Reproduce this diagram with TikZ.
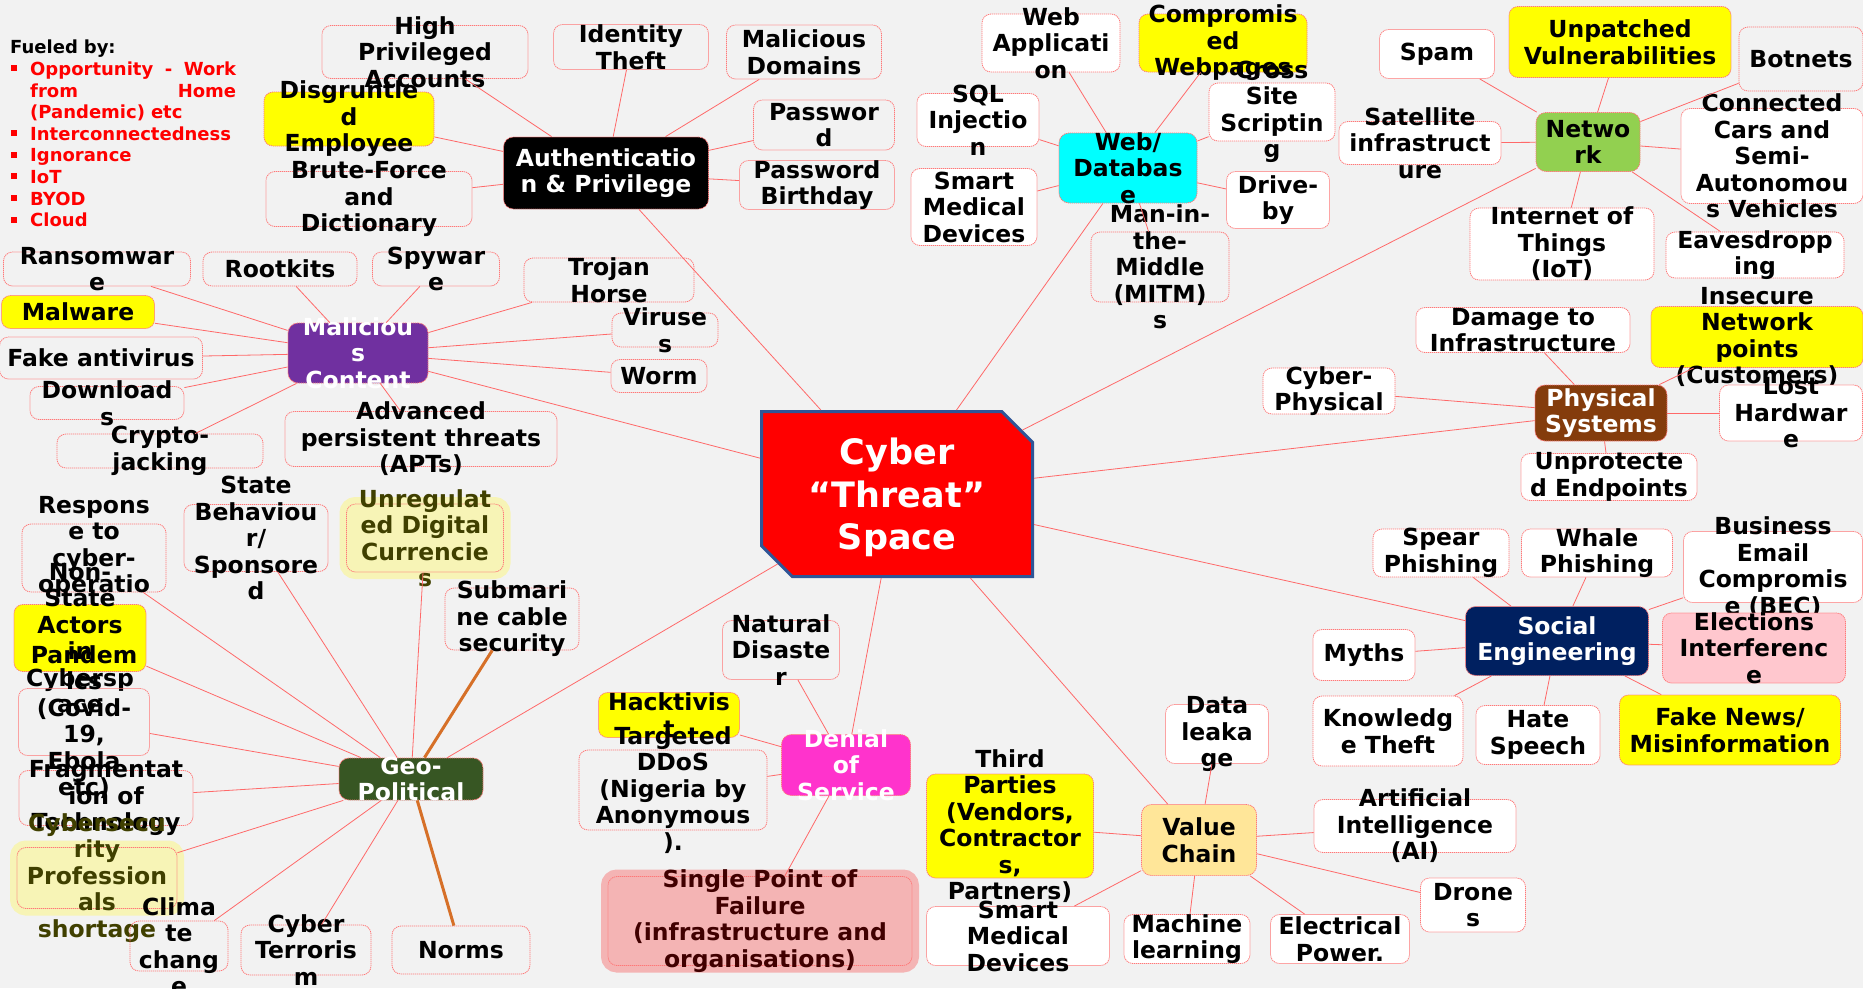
\documentclass[tikz,border=0pt]{standalone}
\usepackage{fontspec}
\setmainfont{DejaVu Sans}
\usetikzlibrary{shapes.misc}
\definecolor{backdrop}{RGB}{242,242,242}
\definecolor{boxline}{RGB}{255,120,120}
\definecolor{linkred}{RGB}{255,105,105}
\definecolor{hl}{RGB}{255,255,0}
\definecolor{malfill}{RGB}{112,48,160}
\definecolor{webfill}{RGB}{0,255,255}
\definecolor{netfill}{RGB}{146,208,80}
\definecolor{physfill}{RGB}{132,60,12}
\definecolor{socfill}{RGB}{0,32,96}
\definecolor{valfill}{RGB}{255,230,153}
\definecolor{dosfill}{RGB}{255,51,204}
\definecolor{geofill}{RGB}{55,86,35}
\definecolor{elecfill}{RGB}{255,199,206}
\definecolor{softyel}{RGB}{247,244,182}
\definecolor{olivetext}{RGB}{64,64,0}
\definecolor{softred}{RGB}{244,180,180}
\definecolor{maroontext}{RGB}{64,0,0}
\definecolor{spaceline}{RGB}{47,85,151}
\definecolor{geoline}{RGB}{214,112,40}
\newcommand{\nodefont}{\fontsize{23.5}{26.5}\selectfont\bfseries}
\newcommand{\bul}{\makebox[20pt][l]{\hspace{1pt}\rule[4pt]{6pt}{6pt}}}

\begin{document}
\begin{tikzpicture}[x=1pt, y=-1pt,
    leaf/.style={draw=boxline, dash pattern=on 1.2pt off 0.8pt, line width=0.8pt,
        rounded corners=9pt, inner sep=0pt},
    hub/.style={leaf, rounded corners=10pt},
    glow/.style={fill=#1, preaction={draw=#1, solid, line width=14pt}},
    txt/.style={font=\nodefont, align=center, inner sep=0pt},
    sz/.style 2 args={minimum width=#1pt, minimum height=#2pt},
    link/.style={draw=linkred, line width=0.8pt},
    geolink/.style={draw=geoline, line width=3pt}]
    \useasboundingbox (0,0) rectangle (1863,988);
    \fill[backdrop] (0,0) rectangle (1863,988);
    %
    \node[anchor=north west, align=left, inner sep=0pt, text width=240pt, text=red,
        font=\fontsize{18}{21.6}\selectfont\bfseries] (f) at (10,40) {
        \textcolor{black}{Fueled by:}\\
        \bul\makebox[206pt][l]{Opportunity\hfill-\hfill Work}\\
        \hspace*{20pt}\makebox[206pt][l]{from\hfill Home}\\
        \hspace*{20pt}(Pandemic) etc\\
        \bul Interconnectedness\\
        \bul Ignorance\\
        \bul IoT\\
        \bul BYOD\\
        \bul Cloud
    };
    % centre
    \node[chamfered rectangle, chamfered rectangle corners={north east, south west},
        chamfered rectangle xsep=27pt, chamfered rectangle angle=45,
        minimum width=271pt, minimum height=165pt, fill=red, draw=spaceline,
        line width=3pt, text=white, align=center,
        font=\fontsize{35}{42.5}\selectfont\bfseries] (s) at (897,494)
        {\rule{0pt}{34pt}Cyber\\“Threat”\\Space};
    % branches
    \node[hub, fill=black, sz={205}{72},
        label={[txt, text=white]center:{Authenticatio\\n \& Privilege}}] (a) at (606,173) {};
    \node[hub, fill=malfill, sz={140}{60},
        label={[txt, text=white]center:{Maliciou\\s\\Content}}] (m) at (358,353) {};
    \node[hub, fill=webfill, sz={138}{70},
        label={[txt]center:{Web/\\Databas\\e}}] (w) at (1128,168) {};
    \node[hub, fill=netfill, sz={104}{59},
        label={[txt]center:{Netwo\\rk}}] (n) at (1588,142) {};
    \node[hub, fill=physfill, sz={132}{56},
        label={[txt, text=white]center:{Physical\\Systems}}] (p) at (1601,413) {};
    \node[hub, fill=socfill, sz={183}{69},
        label={[txt, text=white]center:{Social\\Engineering}}] (e) at (1557,641) {};
    \node[hub, fill=valfill, sz={115}{71},
        label={[txt]center:{Value\\Chain}}] (v) at (1199,840) {};
    \node[hub, fill=dosfill, sz={129}{61},
        label={[txt, text=white]center:{Denial\\of\\Service}}] (d) at (846,765) {};
    \node[hub, fill=geofill, sz={144}{42},
        label={[txt, text=white]center:{Geo-\\Political}}] (g) at (411,779) {};
    % authentication
    \node[leaf, sz={206}{53}, label={[txt]center:{High\\Privileged\\Accounts}}] (a1) at (425,52) {};
    \node[leaf, sz={155}{45}, label={[txt]center:{Identity\\Theft}}] (a2) at (631,47) {};
    \node[leaf, sz={155}{54}, label={[txt]center:{Malicious\\Domains}}] (a3) at (804,52) {};
    \node[leaf, sz={141}{50}, label={[txt]center:{Passwor\\d}}] (a4) at (824,125) {};
    \node[leaf, sz={155}{49}, label={[txt]center:{Password\\Birthday}}] (a5) at (817,185) {};
    \node[leaf, fill=hl, sz={170}{54}, label={[txt]center:{Disgruntle\\d\\Employee}}] (a6) at (349,119) {};
    \node[leaf, sz={206}{55}, label={[txt]center:{Brute-Force\\and\\Dictionary}}] (a7) at (369,199) {};
    % malicious content
    \node[leaf, sz={187}{34}, label={[txt]center:{Ransomwar\\e}}] (m1) at (97,269) {};
    \node[leaf, sz={154}{34}, label={[txt]center:{Rootkits}}] (m2) at (280,269) {};
    \node[leaf, sz={127}{34}, label={[txt]center:{Spywar\\e}}] (m3) at (436,269) {};
    \node[leaf, fill=hl, sz={153}{33}, label={[txt]center:{Malware}}] (m4) at (78,312) {};
    \node[leaf, sz={203}{42}, label={[txt]center:{Fake antivirus}}] (m5) at (101,358) {};
    \node[leaf, sz={154}{33}, label={[txt]center:{Download\\s}}] (m6) at (107,403) {};
    \node[leaf, sz={206}{34}, label={[txt]center:{Crypto-\\jacking}}] (m7) at (160,451) {};
    \node[leaf, sz={272}{55}, label={[txt]center:{Advanced\\persistent threats\\(APTs)}}] (m8) at (421,439) {};
    \node[leaf, sz={170}{44}, label={[txt]center:{Trojan\\Horse}}] (m9) at (609,280) {};
    \node[leaf, sz={106}{34}, label={[txt]center:{Viruse\\s}}] (m10) at (665,330) {};
    \node[leaf, sz={96}{33}, label={[txt]center:{Worm}}] (m11) at (659,376) {};
    % web / database
    \node[leaf, fill=white, sz={138}{58}, label={[txt]center:{Web\\Applicati\\on}}] (w1) at (1051,43) {};
    \node[leaf, fill=hl, sz={168}{58}, label={[txt]center:{Compromis\\ed\\Webpages}}] (w2) at (1223,43) {};
    \node[leaf, fill=white, sz={122}{53}, label={[txt]center:{SQL\\Injectio\\n}}] (w3) at (978,120) {};
    \node[leaf, fill=white, sz={126}{77}, label={[txt]center:{Smart\\Medical\\Devices}}] (w4) at (974,207) {};
    \node[leaf, fill=white, sz={126}{58}, label={[txt]center:{Cross\\Site\\Scriptin\\g}}] (w5) at (1272,112) {};
    \node[leaf, fill=white, sz={103}{57}, label={[txt]center:{Drive-\\by}}] (w6) at (1278,200) {};
    \node[leaf, sz={138}{70}, label={[txt]center:{Man-in-\\the-\\Middle\\(MITM)\\s}}] (w7) at (1160,267) {};
    % network
    \node[leaf, fill=white, sz={115}{49}, label={[txt]center:{Spam}}] (n1) at (1437,54) {};
    \node[leaf, fill=hl, sz={222}{71}, label={[txt]center:{Unpatched\\Vulnerabilities}}] (n2) at (1620,42) {};
    \node[leaf, sz={124}{64}, label={[txt]center:{Botnets}}] (n3) at (1801,59) {};
    \node[leaf, fill=white, sz={162}{43}, label={[txt]center:{Satellite\\infrastruct\\ure}}] (n4) at (1420,143) {};
    \node[leaf, fill=white, sz={182}{95}, label={[txt]center:{Connected\\Cars and\\Semi-\\Autonomou\\s Vehicles}}] (n5) at (1772,156) {};
    \node[leaf, fill=white, sz={184}{72}, label={[txt]center:{Internet of\\Things\\(IoT)}}] (n6) at (1562,244) {};
    \node[leaf, fill=white, sz={178}{46}, label={[txt]center:{Eavesdropp\\ing}}] (n7) at (1755,255) {};
    % physical systems
    \node[leaf, fill=white, sz={214}{45}, label={[txt]center:{Damage to\\Infrastructure}}] (p1) at (1523,330) {};
    \node[leaf, fill=hl, sz={212}{61}, label={[txt]center:{Insecure\\Network\\points\\(Customers)}}] (p2) at (1757,337) {};
    \node[leaf, fill=white, sz={132}{46}, label={[txt]center:{Cyber-\\Physical}}] (p3) at (1329,391) {};
    \node[leaf, fill=white, sz={143}{56}, label={[txt]center:{Lost\\Hardwar\\e}}] (p4) at (1791,413) {};
    \node[leaf, fill=white, sz={176}{47}, label={[txt]center:{Unprotecte\\d Endpoints}}] (p5) at (1609,477) {};
    % social engineering
    \node[leaf, fill=white, sz={136}{48}, label={[txt]center:{Spear\\Phishing}}] (e1) at (1441,553) {};
    \node[leaf, fill=white, sz={151}{48}, label={[txt]center:{Whale\\Phishing}}] (e2) at (1597,553) {};
    \node[leaf, fill=white, sz={179}{71}, label={[txt]center:{Business\\Email\\Compromis\\e (BEC)}}] (e3) at (1773,567) {};
    \node[leaf, fill=elecfill, sz={183}{70}, label={[txt]center:{Elections\\Interferenc\\e}}] (e4) at (1754,648) {};
    \node[leaf, fill=white, sz={102}{51}, label={[txt]center:{Myths}}] (e5) at (1364,655) {};
    \node[leaf, fill=white, sz={150}{70}, label={[txt]center:{Knowledg\\e Theft}}] (e6) at (1388,731) {};
    \node[leaf, fill=white, sz={124}{59}, label={[txt]center:{Hate\\Speech}}] (e7) at (1538,735) {};
    \node[leaf, fill=hl, sz={221}{70}, label={[txt]center:{Fake News/\\Misinformation}}] (e8) at (1730,730) {};
    % value chain
    \node[leaf, fill=white, sz={103}{59}, label={[txt]center:{Data\\leaka\\ge}}] (v1) at (1217,734) {};
    \node[leaf, fill=hl, sz={167}{104}, label={[txt]center:{Third\\Parties\\(Vendors,\\Contractor\\s,\\Partners)}}] (v2) at (1010,826) {};
    \node[leaf, fill=white, sz={183}{59}, label={[txt]center:{Smart\\Medical\\Devices}}] (v3) at (1018,936) {};
    \node[leaf, fill=white, sz={126}{49}, label={[txt]center:{Machine\\learning}}] (v4) at (1187,939) {};
    \node[leaf, fill=white, sz={139}{49}, label={[txt]center:{Electrical\\Power.}}] (v5) at (1340,939) {};
    \node[leaf, fill=white, sz={202}{53}, label={[txt]center:{Artificial\\Intelligence\\(AI)}}] (v6) at (1415,826) {};
    \node[leaf, fill=white, sz={105}{54}, label={[txt]center:{Drone\\s}}] (v7) at (1473,905) {};
    % denial of service
    \node[leaf, sz={117}{59}, label={[txt]center:{Natural\\Disaste\\r}}] (d1) at (781,650) {};
    \node[leaf, fill=hl, sz={141}{45}, label={[txt]center:{Hacktivis\\t}}] (d2) at (669,715) {};
    \node[leaf, sz={188}{80}, label={[txt]center:{Targeted\\DDoS\\(Nigeria by\\Anonymous\\).}}] (d3) at (673,790) {};
    \node[leaf, glow=softred, sz={304}{89}, label={[txt, text=maroontext]center:{Single Point of\\Failure\\(infrastructure and\\organisations)}}] (d4) at (760,921) {};
    % geo-political
    \node[leaf, sz={144}{68}, label={[txt]center:{Respons\\e to\\cyber-\\operatio\\ns}}] (g1) at (94,558) {};
    \node[leaf, sz={144}{67}, label={[txt]center:{State\\Behaviou\\r/\\Sponsore\\d}}] (g2) at (256,538) {};
    \node[leaf, glow=softyel, sz={157}{68}, label={[txt, text=olivetext]center:{Unregulat\\ed Digital\\Currencie\\s}}] (g3) at (425,538) {};
    \node[leaf, sz={134}{62}, label={[txt]center:{Submari\\ne cable\\security}}] (g4) at (512,619) {};
    \node[leaf, fill=hl, sz={132}{67}, label={[txt]center:{Non-\\State\\Actors\\in\\Cybersp\\ace}}] (g5) at (80,638) {};
    \node[leaf, sz={131}{67}, label={[txt]center:{Pandem\\ics\\(Covid-\\19,\\Ebola\\etc)}}] (g6) at (84,722) {};
    \node[leaf, sz={174}{55}, label={[txt]center:{Fragmentat\\ion of\\Technology}}] (g7) at (106,798) {};
    \node[leaf, glow=softyel, sz={160}{61}, label={[txt, text=olivetext]center:{Cybersecu\\rity\\Profession\\als\\shortage}}] (g8) at (97,878) {};
    \node[leaf, sz={98}{50}, label={[txt]center:{Clima\\te\\chang\\e}}] (g9) at (179,946) {};
    \node[leaf, sz={130}{50}, label={[txt]center:{Cyber\\Terroris\\m}}] (g10) at (306,950) {};
    \node[leaf, sz={138}{48}, label={[txt]center:{Norms}}] (g11) at (461,950) {};
    % connectors
    \foreach \x in {a,m,w,n,p,e,v,d,g} \draw[link] (s) -- (\x);
    \foreach \x in {1,...,7} \draw[link] (a) -- (a\x);
    \foreach \x in {1,...,11} \draw[link] (m) -- (m\x);
    \foreach \x in {1,...,7} \draw[link] (w) -- (w\x);
    \foreach \x in {1,...,7} \draw[link] (n) -- (n\x);
    \foreach \x in {1,...,5} \draw[link] (p) -- (p\x);
    \foreach \x in {1,...,8} \draw[link] (e) -- (e\x);
    \foreach \x in {1,...,7} \draw[link] (v) -- (v\x);
    \foreach \x in {1,...,4} \draw[link] (d) -- (d\x);
    \foreach \x in {1,2,3,5,6,7,8,9,10} \draw[link] (g) -- (g\x);
    \draw[geolink] (g) -- (g4);
    \draw[geolink] (g) -- (g11);
\end{tikzpicture}
\end{document}
